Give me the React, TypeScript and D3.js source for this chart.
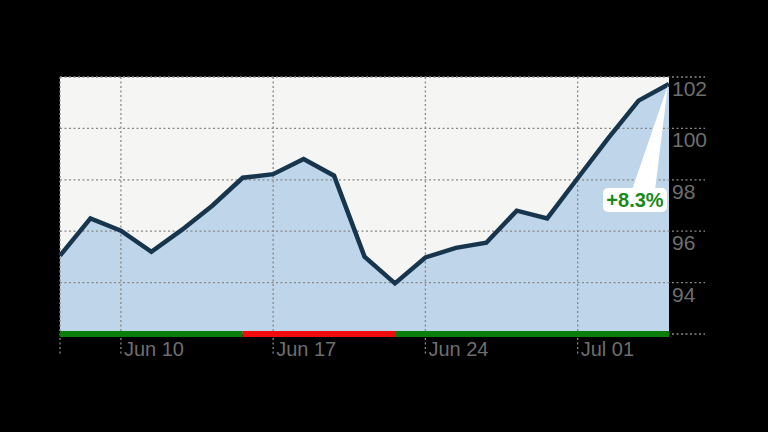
import React from 'react'
import * as d3 from 'd3'

// trading days shown on the chart
const dates = [
  'Jun 06', 'Jun 07',
  'Jun 10', 'Jun 11', 'Jun 12', 'Jun 13', 'Jun 14',
  'Jun 17', 'Jun 18', 'Jun 19', 'Jun 20', 'Jun 21',
  'Jun 24', 'Jun 25', 'Jun 26', 'Jun 27', 'Jun 28',
  'Jul 01', 'Jul 02', 'Jul 03', 'Jul 05',
]
const prices = [
  95.05, 96.5, 96.02, 95.2, 96.05, 96.99, 98.08,
  98.22, 98.81, 98.16, 95.01, 93.97,
  94.98, 95.35, 95.55, 96.8, 96.5,
  98.06, 99.61, 101.08, 101.73,
]
const xTickDates = ['Jun 06', 'Jun 10', 'Jun 17', 'Jun 24', 'Jul 01']
const xTickLabels = ['', 'Jun 10', 'Jun 17', 'Jun 24', 'Jul 01']
const yTicks = [92, 94, 96, 98, 100, 102]
const yTickLabels = ['', '94', '96', '98', '100', '102']
// trend bar along the bottom: segment start/end dates and colour
const trendStart = ['Jun 06', 'Jun 14', 'Jun 21']
const trendEnd = ['Jun 14', 'Jun 21', 'Jul 05']
const trendUp = [true, false, true]
const changeLabel = '+8.3%'

const W = 768
const H = 432
const margin = { top: 77, right: 99, bottom: 98, left: 60 }

const App = () => {
  const x = d3.scalePoint<string>().domain(dates).range([margin.left, W - margin.right])
  const y = d3.scaleLinear().domain([92, 102]).range([H - margin.bottom, margin.top])
  const x0 = margin.left
  const x1 = W - margin.right
  const yBottom = H - margin.bottom

  const idx = d3.range(dates.length)
  const area = d3
    .area<number>()
    .x((i) => x(dates[i])!)
    .y0(yBottom)
    .y1((i) => y(prices[i]))
  const line = d3
    .line<number>()
    .x((i) => x(dates[i])!)
    .y((i) => y(prices[i]))

  const last = dates.length - 1
  const lx = x(dates[last])!
  const ly = y(prices[last])
  const box = { x: lx - 66, y: ly + 104, w: 64, h: 24 }

  const font = 'Liberation Sans, Arial, sans-serif'
  const gridColor = '#888'

  return (
    <div style={{ position: 'fixed', left: 0, top: 0, width: W, height: H, background: '#000' }}>
      <svg width={W} height={H} style={{ display: 'block' }}>
        <rect x={0} y={0} width={W} height={H} fill="#000" />
        <rect x={x0} y={margin.top} width={x1 - x0} height={yBottom - margin.top} fill="#f5f5f3" />
        <path d={area(idx) ?? ''} fill="#bfd5ea" />

        {/* horizontal grid, extended past the plot */}
        {yTicks.map((t) => (
          <line
            key={'gy' + t}
            x1={x0}
            x2={x1 + 36}
            y1={y(t)}
            y2={y(t)}
            stroke={gridColor}
            strokeWidth={1.3}
            strokeDasharray="2,2.5"
          />
        ))}
        {/* vertical grid, extended below the axis */}
        {xTickDates.map((d) => (
          <line
            key={'gx' + d}
            x1={x(d)}
            x2={x(d)}
            y1={margin.top}
            y2={yBottom + 20}
            stroke={gridColor}
            strokeWidth={1.3}
            strokeDasharray="2,2.5"
          />
        ))}

        <path
          d={line(idx) ?? ''}
          fill="none"
          stroke="#17364e"
          strokeWidth={4.5}
          strokeLinejoin="miter"
        />

        {trendStart.map((s, i) => (
          <rect
            key={'tr' + i}
            x={x(s)}
            y={yBottom - 3}
            width={x(trendEnd[i])! - x(s)!}
            height={6}
            fill={trendUp[i] ? '#0b7d0b' : '#f00c0c'}
          />
        ))}

        {yTicks.map((t, i) => (
          <text
            key={'ly' + t}
            x={x1 + 3}
            y={y(t) + 19}
            fill="#6e6e6e"
            fontFamily={font}
            fontSize={21}
          >
            {yTickLabels[i]}
          </text>
        ))}
        {xTickDates.map((d, i) => (
          <text
            key={'lx' + d}
            x={x(d)! + 3}
            y={yBottom + 22}
            fill="#6e6e6e"
            fontFamily={font}
            fontSize={20}
          >
            {xTickLabels[i]}
          </text>
        ))}

        {/* change callout */}
        <path
          d={`M${lx - 1},${ly + 1} L${box.x + 29},${box.y + 2} L${box.x + 52},${box.y + 2} Z`}
          fill="#fff"
        />
        <rect x={box.x} y={box.y} width={box.w} height={box.h} rx={5} fill="#fff" />
        <text
          x={box.x + box.w / 2}
          y={box.y + 19}
          textAnchor="middle"
          fill="#178a17"
          fontFamily={font}
          fontWeight="bold"
          fontSize={20}
        >
          {changeLabel}
        </text>
      </svg>
    </div>
  )
}

export default App
